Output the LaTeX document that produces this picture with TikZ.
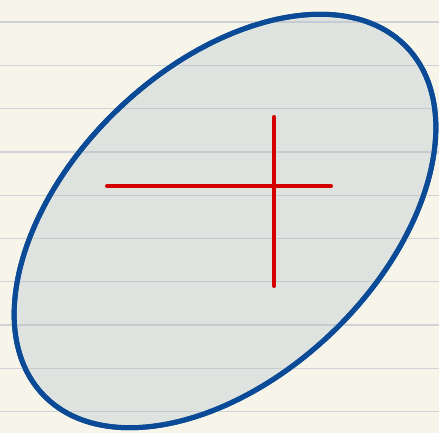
\documentclass[tikz,border=0pt]{standalone}
\usepackage{tikz}
\usetikzlibrary{backgrounds,calc}
\definecolor{paper}{RGB}{247,245,234}
\definecolor{ruleline}{RGB}{176,184,196}
\definecolor{shellblue}{RGB}{10,74,150}
\definecolor{shellfill}{RGB}{223,227,223}
\definecolor{crossred}{RGB}{212,0,0}
\tikzset{
  ruled/.style={ruleline, opacity=0.55, line width=1.3pt},
  shell/.style={draw=shellblue, fill=shellfill, line width=5pt},
  crossbar/.style={crossred, line width=4pt, line cap=round}
}

\begin{document}
\begin{tikzpicture}[x=1pt,y=1pt]
    % Papier
    \fill[paper] (0,0) rectangle (439,433);
    \useasboundingbox (0,0) rectangle (439,433);
    % Ellipse
    \coordinate (centre) at (225,212);
    \draw[shell, rotate around={43.75:(centre)}] (centre) ellipse [x radius=251.5, y radius=154.7];
    % Linien
    \foreach \k in {0,...,9}
        \draw[ruled] (0,{411-43.3*\k}) -- (439,{411-43.3*\k});
    % Rand nochmal oben
    \draw[draw=shellblue, line width=5pt, rotate around={43.75:(centre)}] (centre) ellipse [x radius=251.5, y radius=154.7];
    % Kreuz
    \coordinate (west) at (107,247);
    \coordinate (east) at (331,247);
    \coordinate (north) at (274,316);
    \coordinate (south) at (274,147);
    \draw[crossbar] (west) -- (east);
    \draw[crossbar] (north) -- (south);
\end{tikzpicture}
\end{document}
